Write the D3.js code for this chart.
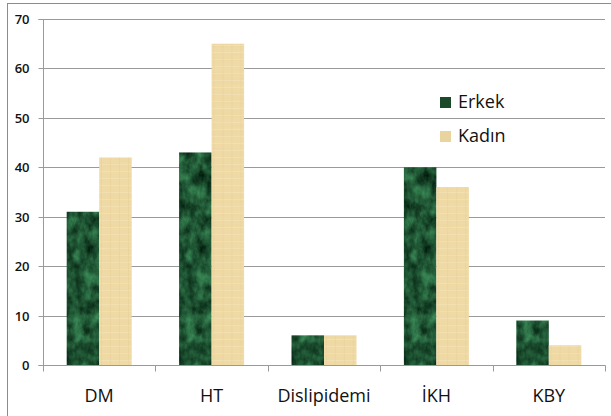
<!DOCTYPE html>
<html><head><meta charset="utf-8">
<script src="https://cdn.jsdelivr.net/npm/d3@7"></script>
<style>body{margin:0;background:#fff}svg{display:block}</style>
</head><body>
<svg id="c" width="611" height="416"></svg>
<script>
const categories = ["DM","HT","Dislipidemi","İKH","KBY"];
const series = ["Erkek","Kadın"];
const erkek = [31,43,6,40,9];
const kadin = [42,65,6,36,4];
const yTicks = [0,10,20,30,40,50,60,70];

(function(){
const svg = d3.select("#c");
const defs = svg.append("defs");

// green marble filter
const fg = defs.append("filter").attr("id","marble").attr("x",0).attr("y",0).attr("width",1).attr("height",1)
  .attr("color-interpolation-filters","sRGB");
fg.append("feTurbulence").attr("type","fractalNoise").attr("baseFrequency","0.1 0.07").attr("numOctaves",4).attr("seed",3).attr("result","n");
fg.append("feColorMatrix").attr("in","n").attr("type","matrix")
  .attr("values","0.32 0 0 0 -0.04  0.62 0 0 0 0.02  0.42 0 0 0 -0.01  0 0 0 0 1").attr("result","c");
fg.append("feComposite").attr("in","c").attr("in2","SourceAlpha").attr("operator","in");

// papyrus pattern
const pt = defs.append("pattern").attr("id","papyrus").attr("patternUnits","userSpaceOnUse").attr("width",9).attr("height",7);
pt.append("rect").attr("width",9).attr("height",7).attr("fill","#eed8a3");
pt.append("rect").attr("x",0).attr("y",3).attr("width",9).attr("height",1).attr("fill","#f5e4bb").attr("opacity",0.6);
pt.append("rect").attr("x",4).attr("y",0).attr("width",1).attr("height",7).attr("fill","#e4cb92").attr("opacity",0.4);
const ft = defs.append("filter").attr("id","papyrusN").attr("x",0).attr("y",0).attr("width",1).attr("height",1)
  .attr("color-interpolation-filters","sRGB");
ft.append("feTurbulence").attr("type","fractalNoise").attr("baseFrequency","0.02 0.25").attr("numOctaves",2).attr("seed",7).attr("result","n");
ft.append("feColorMatrix").attr("in","n").attr("type","matrix")
  .attr("values","0 0 0 0 0.97  0 0 0 0 0.89  0 0 0 0 0.7  0.4 0 0 0 -0.12").attr("result","c");
ft.append("feComposite").attr("in","c").attr("in2","SourceGraphic").attr("operator","atop");

// outer border
svg.append("rect").attr("x",7.5).attr("y",3.5).attr("width",640).attr("height",440)
  .attr("fill","none").attr("stroke","#8c8c8c").attr("stroke-width",1);

const pl = 43, pr = 605, pt0 = 19, pb = 365;
const y = d3.scaleLinear().domain([0,70]).range([pb, pt0]);
const x0 = d3.scaleBand().domain(categories).range([pl,pr]).padding(0);
const x1 = d3.scaleBand().domain(series).range([0,x0.bandwidth()]).paddingInner(0).paddingOuter(0.729);

// gridlines
svg.append("g").selectAll("line").data(yTicks.filter(d=>d>0)).join("line")
  .attr("x1",pl).attr("x2",pr).attr("y1",d=>Math.round(y(d))+0.5).attr("y2",d=>Math.round(y(d))+0.5)
  .attr("stroke","#9a9a9a").attr("stroke-width",1);

// y axis
const ya = svg.append("g").attr("transform",`translate(${pl+0.5},0)`)
  .call(d3.axisLeft(y).tickValues(yTicks).tickSize(5).tickPadding(9));
ya.select(".domain").attr("stroke","#9a9a9a").attr("d",`M-5,${pb+0.5}H0V${pt0+0.5}H-5`);
ya.selectAll(".tick line").attr("stroke","#9a9a9a");
ya.selectAll(".tick").attr("transform",d=>`translate(0,${Math.round(y(d))+0.5})`);
ya.selectAll("text").attr("font-family","'Open Sans', sans-serif").attr("font-size",13).attr("font-weight",600).attr("fill","#111");

// bars
const data = categories.map((c,i)=>({c, vals:[{s:"Erkek",v:erkek[i]},{s:"Kadın",v:kadin[i]}]}));
const g = svg.append("g").selectAll("g").data(data).join("g").attr("transform",d=>`translate(${x0(d.c)},0)`);
g.selectAll("rect").data(d=>d.vals).join("rect")
  .attr("x",d=>x1(d.s)).attr("width",x1.bandwidth())
  .attr("y",d=>y(d.v)).attr("height",d=>y(0)-y(d.v))
  .attr("fill",d=>d.s==="Erkek"?"#1e5230":"url(#papyrus)")
  .attr("filter",d=>d.s==="Erkek"?"url(#marble)":"url(#papyrusN)");

// x axis
const xa = svg.append("g").attr("transform",`translate(0,${pb+0.5})`);
xa.append("line").attr("x1",pl).attr("x2",pr+0.5).attr("stroke","#9a9a9a");
const edges = categories.map(c=>x0(c)).concat([x0(categories[categories.length-1])+x0.bandwidth()]);
xa.selectAll("line.t").data(edges).join("line").attr("class","t")
  .attr("x1",d=>Math.round(d)+0.5).attr("x2",d=>Math.round(d)+0.5).attr("y1",0).attr("y2",6).attr("stroke","#9a9a9a");
xa.selectAll("text").data(categories).join("text")
  .attr("x",d=>x0(d)+x0.bandwidth()/2).attr("y",36)
  .attr("text-anchor","middle").attr("font-family","'Open Sans', sans-serif").attr("font-size",18).attr("fill","#111")
  .text(d=>d);

// legend
const lg = svg.append("g").selectAll("g").data(series).join("g")
  .attr("transform",(d,i)=>`translate(440,${97+i*34})`);
lg.append("rect").attr("width",11).attr("height",11)
  .attr("fill",d=>d==="Erkek"?"#1b4a2b":"#e9d39e");
lg.append("text").attr("x",18).attr("y",11).attr("font-family","'Open Sans', sans-serif").attr("font-size",18).attr("fill","#111")
  .text(d=>d);
})();
</script>
</body></html>
